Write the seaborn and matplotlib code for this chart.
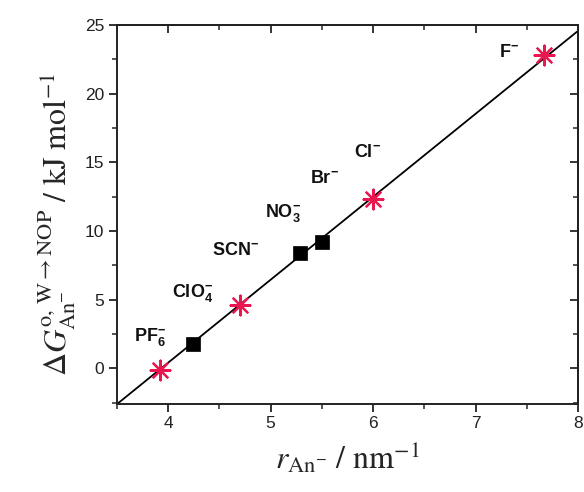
import matplotlib
matplotlib.use("Agg")
import matplotlib.pyplot as plt
import seaborn as sns
import pandas as pd

# Anion radii parameter (nm^-1) and transfer Gibbs energies (kJ/mol)
star_r = [3.92, 4.70, 6.00, 7.67]
star_dg = [-0.1, 4.6, 12.3, 22.8]
square_r = [4.24, 5.29, 5.50]
square_dg = [1.8, 8.4, 9.2]

# Linear fit
fit_slope = 6.04
fit_intercept = -23.75

# Anion labels and where they sit
labels = [r"F$^{-}$", r"Cl$^{-}$", r"Br$^{-}$", r"NO$_{3}^{-}$",
          r"SCN$^{-}$", r"ClO$_{4}^{-}$", r"PF$_{6}^{-}$"]
label_x = [7.33, 5.95, 5.53, 5.12, 4.66, 4.24, 3.82]
label_y = [23.0, 15.7, 13.8, 11.3, 8.6, 5.5, 2.3]

x_ticks = [4, 5, 6, 7, 8]
y_ticks = [0, 5, 10, 15, 20, 25]
x_minor = [3.5, 4.5, 5.5, 6.5, 7.5]
y_minor = [-2.5, 2.5, 7.5, 12.5, 17.5, 22.5]

sns.set_theme(style="ticks")
plt.rcParams["font.family"] = ["Liberation Sans", "DejaVu Sans"]
plt.rcParams["mathtext.fontset"] = "custom"
plt.rcParams["mathtext.rm"] = "Liberation Sans:bold"
plt.rcParams["mathtext.it"] = "Liberation Sans:bold"
plt.rcParams["mathtext.bf"] = "Liberation Sans:bold"
plt.rcParams["mathtext.default"] = "it"

fig = plt.figure(figsize=(5.84, 4.92), dpi=100)
ax = fig.add_axes([0.2003, 0.1789, 0.7894, 0.7703])

ax.axline((0, fit_intercept), slope=fit_slope, color="black", lw=1.3, zorder=2)

df_star = pd.DataFrame({"r": star_r, "dg": star_dg})
df_sq = pd.DataFrame({"r": square_r, "dg": square_dg})
sns.scatterplot(data=df_star, x="r", y="dg", ax=ax, marker=(8, 2, 0), s=200,
                color="#e8174f", linewidth=1.6, zorder=3)
sns.scatterplot(data=df_sq, x="r", y="dg", ax=ax, marker="s", s=110,
                color="black", edgecolor="black", linewidth=0.5, zorder=3)

for t, lx, ly in zip(labels, label_x, label_y):
    ax.text(lx, ly, t, ha="center", va="center", fontsize=13,
            fontweight="bold", color="#111111")

ax.set_xlim(3.5, 8.0)
ax.set_ylim(-2.6, 25.0)
ax.set_xticks(x_ticks)
ax.set_yticks(y_ticks)
ax.set_xticks(x_minor, minor=True)
ax.set_yticks(y_minor, minor=True)
ax.tick_params(which="major", direction="out", length=6, width=1.3,
               labelsize=12.5, colors="#222222", pad=3)
ax.tick_params(which="minor", direction="out", length=3.5, width=1.1)

for sp in ax.spines.values():
    sp.set_linewidth(1.4)
    sp.set_color("#222222")
    sp.set_visible(True)

top = ax.secondary_xaxis("top")
top.set_xticks(x_ticks)
top.set_xticks(x_minor, minor=True)
top.tick_params(which="major", direction="in", length=6, width=1.3, labeltop=False)
top.tick_params(which="minor", direction="in", length=3.5, width=1.1)
top.spines["top"].set_linewidth(1.4)

right = ax.secondary_yaxis("right")
right.set_yticks(y_ticks)
right.set_yticks(y_minor, minor=True)
right.tick_params(which="major", direction="in", length=6, width=1.3, labelright=False)
right.tick_params(which="minor", direction="in", length=3.5, width=1.1)
right.spines["right"].set_linewidth(1.4)

ax.set_xlabel(r"$r_{\mathrm{An}^{-}}\ /\ \mathrm{nm}^{-1}$",
              fontsize=23, math_fontfamily="stix", labelpad=6)
ax.set_ylabel(r"$\Delta G^{\mathrm{o},\,\mathrm{W}\rightarrow\mathrm{NOP}}_{\mathrm{An}^{-}}\ /\ \mathrm{kJ\ mol}^{-1}$",
              fontsize=23, math_fontfamily="stix")
ax.yaxis.set_label_coords(-0.085, 0.475)

fig.savefig("out.png", dpi=100)
